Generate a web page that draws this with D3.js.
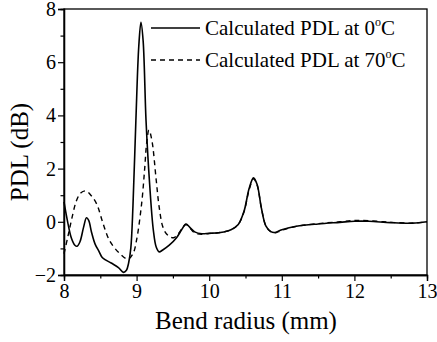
<!DOCTYPE html>
<html>
<head>
<meta charset="utf-8">
<script src="https://cdn.jsdelivr.net/npm/d3@7"></script>
<style>
  body { margin: 0; background: #fff; }
</style>
</head>
<body>
<svg id="chart"></svg>
<script>
// Bend radius (mm) / PDL (dB) readings
const x0C = [8.00, 8.05, 8.10, 8.15, 8.18, 8.22, 8.27, 8.31, 8.34, 8.38, 8.43, 8.48, 8.53, 8.65, 8.75, 8.82,
  8.86, 8.89, 8.92, 8.95, 8.99, 9.03, 9.06, 9.09, 9.13, 9.18, 9.23, 9.27, 9.31, 9.36, 9.45,
  9.55, 9.62, 9.68, 9.73, 9.80, 9.90, 10.0, 10.1, 10.2, 10.3, 10.4, 10.48, 10.55, 10.61, 10.66, 10.72,
  10.78, 10.85, 10.90, 11.0, 11.2, 11.5, 11.8, 12.0, 12.2, 12.5, 12.8, 13.0];
const pdl0C = [0.75, 0.0, -0.6, -0.88, -0.92, -0.75, -0.2, 0.15, 0.05, -0.4, -0.85, -1.1, -1.35, -1.55, -1.72, -1.9,
  -1.82, -1.55, -1.0, 0.6, 3.8, 6.6, 7.5, 6.8, 3.8, 1.4, -0.3, -0.95, -1.13, -1.06, -0.88,
  -0.6, -0.3, -0.08, -0.2, -0.38, -0.45, -0.43, -0.42, -0.38, -0.3, -0.1, 0.4, 1.25, 1.65, 1.4, 0.5,
  -0.15, -0.37, -0.4, -0.3, -0.17, -0.08, -0.02, 0.02, 0.02, -0.03, -0.05, 0.0];

const x70C = [8.00, 8.05, 8.10, 8.17, 8.23, 8.30, 8.37, 8.45, 8.54, 8.63, 8.77, 8.88, 8.95, 9.00, 9.07,
  9.11, 9.14, 9.17, 9.21, 9.27, 9.31, 9.36, 9.41, 9.46, 9.51, 9.56, 9.62, 9.68, 9.73, 9.80,
  9.90, 10.0, 10.1, 10.2, 10.3, 10.4, 10.48, 10.55, 10.61, 10.66, 10.72, 10.78, 10.85, 10.90, 11.0,
  11.2, 11.5, 11.8, 12.0, 12.2, 12.5, 12.8, 13.0];
const pdl70C = [-1.2, -0.6, 0.03, 0.78, 1.08, 1.16, 1.0, 0.67, -0.08, -0.72, -1.2, -1.4, -1.2, -0.68, 0.7,
  1.95, 3.0, 3.45, 3.07, 1.57, 0.57, -0.18, -0.45, -0.56, -0.6, -0.5, -0.28, -0.1, -0.22, -0.42,
  -0.47, -0.44, -0.42, -0.38, -0.3, -0.1, 0.38, 1.2, 1.62, 1.38, 0.5, -0.15, -0.38, -0.42, -0.32,
  -0.17, -0.07, 0.0, 0.05, 0.04, -0.02, -0.05, 0.0];

const xTicks = [8, 9, 10, 11, 12, 13];
const yTicks = [-2, 0, 2, 4, 6, 8];
const legendLabels = ["Calculated PDL at 0", "Calculated PDL at 70"];

const serif = '"Liberation Serif", "Times New Roman", Tinos, serif';

const width = 437, height = 342;
const margin = { top: 9, right: 10, bottom: 67, left: 64 };
const innerW = width - margin.left - margin.right;
const innerH = height - margin.top - margin.bottom;

const svg = d3.select("#chart").attr("width", width).attr("height", height)
  .attr("font-family", serif);
const chart = svg.append("g").attr("transform", `translate(${margin.left},${margin.top})`);

const xScale = d3.scaleLinear().domain([8, 13]).range([0, innerW]);
const yScale = d3.scaleLinear().domain([-2, 8]).range([innerH, 0]);

// frame
chart.append("rect")
  .attr("width", innerW).attr("height", innerH)
  .attr("fill", "none").attr("stroke", "#000").attr("stroke-width", 1.3);

// minor ticks
const xMinor = d3.range(8.5, 13, 1);
const yMinor = d3.range(-1, 8, 2);

chart.append("g").attr("transform", `translate(0,${innerH})`)
  .call(d3.axisBottom(xScale).tickValues(xTicks).tickSize(6).tickPadding(3).tickFormat(d3.format("d")));
chart.append("g").attr("transform", `translate(0,${innerH})`)
  .call(d3.axisBottom(xScale).tickValues(xMinor).tickSize(3.5).tickFormat(""));
chart.append("g")
  .call(d3.axisLeft(yScale).tickValues(yTicks).tickSize(6).tickPadding(2).tickFormat(d3.format("d")));
chart.append("g")
  .call(d3.axisLeft(yScale).tickValues(yMinor).tickSize(3.5).tickFormat(""));

chart.selectAll(".domain").attr("stroke", "#000").attr("stroke-width", 1.3);
chart.selectAll(".tick line").attr("stroke", "#000").attr("stroke-width", 1.2);
chart.selectAll("g").attr("font-family", serif);
chart.selectAll(".tick text").attr("font-size", 20).attr("fill", "#000");

// curves
const line = d3.line()
  .x(d => xScale(d[0]))
  .y(d => yScale(d[1]))
  .curve(d3.curveCatmullRom.alpha(0.5));

chart.append("path")
  .datum(x70C.map((x, i) => [x, pdl70C[i]]))
  .attr("d", line)
  .attr("fill", "none").attr("stroke", "#000").attr("stroke-width", 1.4)
  .attr("stroke-dasharray", "5,4");

chart.append("path")
  .datum(x0C.map((x, i) => [x, pdl0C[i]]))
  .attr("d", line)
  .attr("fill", "none").attr("stroke", "#000").attr("stroke-width", 1.6);

// legend
const legend = svg.append("g").attr("transform", "translate(151,28)");
legendLabels.forEach((lab, i) => {
  const g = legend.append("g").attr("transform", `translate(0,${i * 32})`);
  g.append("line").attr("x1", 0).attr("x2", 49).attr("y1", 0).attr("y2", 0)
    .attr("stroke", "#000").attr("stroke-width", 1.4)
    .attr("stroke-dasharray", i === 0 ? null : "5,4");
  const t = g.append("text").attr("x", 54).attr("y", 7).attr("font-size", 21);
  t.append("tspan").text(lab);
  t.append("tspan").attr("dy", -9).attr("font-size", 12).text("o");
  t.append("tspan").attr("dy", 9).text("C");
});

// axis titles
svg.append("text")
  .attr("x", 246).attr("y", 329)
  .attr("text-anchor", "middle").attr("font-size", 25)
  .text("Bend radius (mm)");
svg.append("text")
  .attr("transform", "translate(28,152) rotate(-90)")
  .attr("text-anchor", "middle").attr("font-size", 25)
  .text("PDL (dB)");
</script>
</body>
</html>
